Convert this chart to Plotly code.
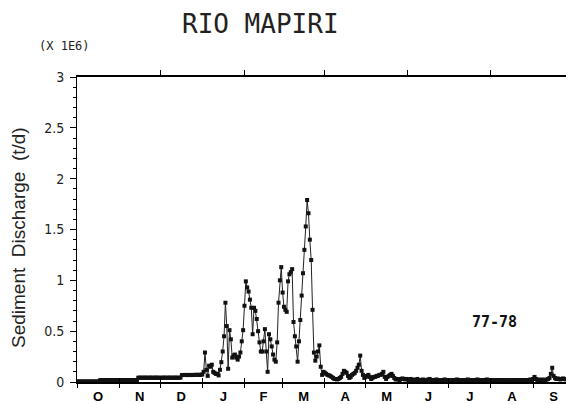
import plotly.graph_objects as go

# ---- data (daily sediment discharge, x 1E6 t/d), hydrological year Oct 1977 - Sep 1978 ----
month_labels = ["O", "N", "D", "J", "F", "M", "A", "M", "J", "J", "A", "S"]
month_lengths = [31, 30, 31, 31, 28, 31, 30, 31, 30, 31, 31, 30]

oct_vals = [0.004, 0.004, 0.005, 0.004, 0.004, 0.005, 0.004, 0.004, 0.005, 0.004, 0.004, 0.005,
            0.004, 0.004, 0.005, 0.004, 0.005, 0.018, 0.019, 0.018, 0.02, 0.019, 0.018, 0.02,
            0.019, 0.018, 0.019, 0.02, 0.018, 0.019, 0.02]
nov_vals = [0.019, 0.018, 0.02, 0.019, 0.018, 0.019, 0.02, 0.018, 0.019, 0.02, 0.019, 0.018,
            0.02, 0.019, 0.042, 0.043, 0.042, 0.041, 0.042, 0.043, 0.042, 0.041, 0.042, 0.043,
            0.042, 0.041, 0.042, 0.043, 0.042, 0.041]
dec_vals = [0.042, 0.041, 0.042, 0.043, 0.042, 0.041, 0.042, 0.043, 0.042, 0.041, 0.042, 0.043,
            0.042, 0.041, 0.042, 0.043, 0.068, 0.069, 0.07, 0.069, 0.068, 0.07, 0.069, 0.068,
            0.07, 0.069, 0.07, 0.071, 0.07, 0.069, 0.072]
jan_vals = [0.074, 0.10, 0.29, 0.12, 0.06, 0.16, 0.15, 0.17, 0.10, 0.09, 0.08, 0.08, 0.065,
            0.12, 0.195, 0.30, 0.45, 0.78, 0.55, 0.13, 0.51, 0.42, 0.24, 0.26, 0.27, 0.24,
            0.22, 0.25, 0.29, 0.40, 0.51]
feb_vals = [0.75, 0.99, 0.93, 0.89, 0.81, 0.73, 0.47, 0.73, 0.70, 0.62, 0.50, 0.39, 0.30, 0.30,
            0.40, 0.52, 0.30, 0.10, 0.47, 0.42, 0.35, 0.27, 0.22, 0.20, 0.39, 0.78, 1.00, 1.13]
mar_vals = [0.88, 0.74, 0.71, 0.69, 0.99, 1.06, 1.08, 1.11, 0.59, 0.45, 0.35, 0.20, 0.40, 0.61,
            0.85, 1.07, 1.30, 1.53, 1.79, 1.66, 1.40, 1.20, 0.71, 0.29, 0.21, 0.25, 0.30, 0.36,
            0.15, 0.07, 0.10]
apr_vals = [0.09, 0.08, 0.07, 0.065, 0.06, 0.05, 0.04, 0.03, 0.03, 0.025, 0.03, 0.04, 0.05, 0.08,
            0.11, 0.10, 0.09, 0.06, 0.04, 0.05, 0.07, 0.08, 0.09, 0.11, 0.14, 0.17, 0.26, 0.11,
            0.07, 0.04]
may_vals = [0.05, 0.06, 0.07, 0.05, 0.03, 0.04, 0.05, 0.05, 0.06, 0.06, 0.07, 0.07, 0.08, 0.10,
            0.05, 0.03, 0.05, 0.06, 0.07, 0.08, 0.06, 0.04, 0.025, 0.03, 0.025, 0.02, 0.03, 0.035,
            0.03, 0.025, 0.03]
jun_vals = [0.025, 0.02, 0.03, 0.02, 0.025, 0.015, 0.02, 0.03, 0.02, 0.015, 0.02, 0.025, 0.02,
            0.015, 0.02, 0.025, 0.03, 0.02, 0.015, 0.02, 0.02, 0.025, 0.015, 0.02, 0.02, 0.015,
            0.02, 0.025, 0.02, 0.015]
jul_vals = [0.02, 0.015, 0.02, 0.02, 0.015, 0.02, 0.025, 0.02, 0.015, 0.02, 0.02, 0.015, 0.02,
            0.02, 0.025, 0.02, 0.015, 0.02, 0.02, 0.015, 0.02, 0.025, 0.02, 0.015, 0.02, 0.02,
            0.015, 0.02, 0.025, 0.02, 0.015]
aug_vals = [0.015, 0.02, 0.015, 0.015, 0.02, 0.015, 0.02, 0.015, 0.015, 0.02, 0.015, 0.015, 0.02,
            0.015, 0.015, 0.02, 0.015, 0.02, 0.02, 0.015, 0.02, 0.015, 0.02, 0.02, 0.015, 0.02,
            0.02, 0.015, 0.02, 0.025, 0.02]
sep_vals = [0.03, 0.05, 0.03, 0.02, 0.025, 0.02, 0.02, 0.025, 0.02, 0.02, 0.025, 0.03, 0.04, 0.08,
            0.14, 0.06, 0.04, 0.03, 0.035, 0.03, 0.025, 0.03, 0.035, 0.03, 0.025, 0.03, 0.035,
            0.03, 0.03, 0.03]

y_ticks = [0, 0.5, 1, 1.5, 2, 2.5, 3]

# ---- assemble ----
values = (oct_vals + nov_vals + dec_vals + jan_vals + feb_vals + mar_vals +
          apr_vals + may_vals + jun_vals + jul_vals + aug_vals + sep_vals)
days = list(range(len(values)))

bounds = [0]
for n in month_lengths:
    bounds.append(bounds[-1] + n)
mids = [(bounds[i] + bounds[i + 1]) / 2 for i in range(len(month_lengths))]
top_ticks = bounds[2::2]
xr = [0, bounds[-1]]

fig = go.Figure()
fig.add_trace(go.Scatter(
    x=days, y=values, mode="lines+markers",
    line=dict(color="#222222", width=1),
    marker=dict(symbol="square", size=4, color="#111111"),
    showlegend=False, hoverinfo="skip"))

# helper traces for decorative axes
for ax in ["x2", "x3", "x4"]:
    fig.add_trace(go.Scatter(x=xr, y=[0, 0], xaxis=ax, mode="lines",
                             line=dict(width=0), opacity=0, showlegend=False,
                             hoverinfo="skip"))

narrow = "Liberation Sans Narrow, DejaVu Sans Condensed, Liberation Sans, sans-serif"

# page has an 8px body margin: plot area spans page x 77..574, y 77..382
fig.update_layout(
    width=566, height=396,
    margin=dict(l=69, r=0, t=69, b=22),
    paper_bgcolor="white", plot_bgcolor="white",
    xaxis=dict(range=xr, tickmode="array", tickvals=mids, ticktext=month_labels,
               ticks="", showline=True, linecolor="black", linewidth=1.5,
               showgrid=False, zeroline=False,
               tickfont=dict(family="Liberation Sans, Arial, sans-serif", size=13,
                             color="black", weight="bold"),
               ticklabelstandoff=2),
    xaxis2=dict(range=xr, overlaying="x", side="bottom", tickmode="array",
                tickvals=bounds, ticks="outside", ticklen=5, tickcolor="black",
                showticklabels=False, showline=False, showgrid=False, zeroline=False),
    xaxis4=dict(range=xr, overlaying="x", side="bottom", tickmode="array",
                tickvals=bounds, ticks="inside", ticklen=4, tickcolor="black",
                showticklabels=False, showline=False, showgrid=False, zeroline=False),
    xaxis3=dict(range=xr, overlaying="x", side="top", tickmode="array",
                tickvals=top_ticks, ticks="outside", ticklen=5, tickcolor="black",
                showticklabels=False, showline=True, linecolor="black", linewidth=1.5,
                showgrid=False, zeroline=False),
    yaxis=dict(range=[0, 3], tickmode="array", tickvals=y_ticks,
               ticktext=[str(v) for v in y_ticks],
               ticks="outside", ticklen=6, tickcolor="black",
               minor=dict(dtick=0.1, ticks="outside", ticklen=3, tickcolor="black",
                          showgrid=False),
               showline=True, linecolor="black", linewidth=1,
               showgrid=False, zeroline=False,
               tickfont=dict(family=narrow, size=14, color="#222222"),
               ticklabelstandoff=3),
    annotations=[
        dict(text="RIO MAPIRI", xref="paper", yref="paper",
             x=(260 - 77) / 497, y=(382 - 24) / 305, xanchor="center", yanchor="middle",
             showarrow=False,
             font=dict(family="DejaVu Sans Mono, monospace", size=26, color="#222222")),
        dict(text="(X 1E6)", xref="paper", yref="paper",
             x=(64 - 77) / 497, y=(382 - 46) / 305, xanchor="center", yanchor="middle",
             showarrow=False,
             font=dict(family="DejaVu Sans Mono, monospace", size=12, color="#222222")),
        dict(text="Sediment  Discharge  (t/d)", xref="paper", yref="paper",
             x=(18 - 77) / 497, y=(382 - 238) / 305, xanchor="center", yanchor="middle",
             textangle=-90, showarrow=False,
             font=dict(family="Liberation Sans, Arial, sans-serif", size=19, color="#222222")),
        dict(text="77-78", xref="paper", yref="paper",
             x=(494 - 77) / 497, y=(382 - 322) / 305, xanchor="center", yanchor="middle",
             showarrow=False,
             font=dict(family="DejaVu Sans Mono, monospace", size=15, color="#111111",
                       weight="bold")),
    ],
)

fig.write_html("out.html")
